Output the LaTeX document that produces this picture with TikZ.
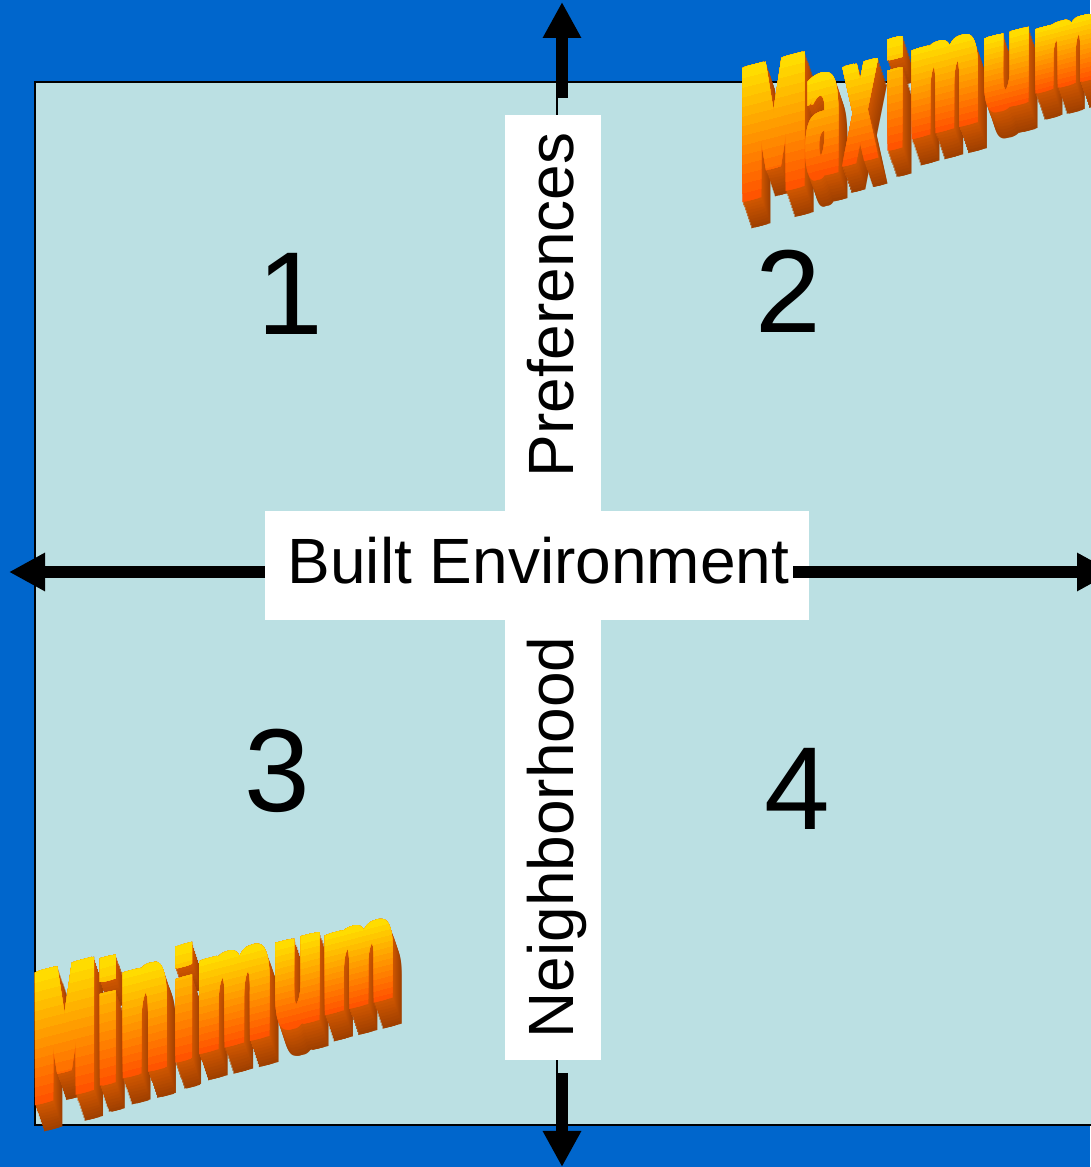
\documentclass[tikz,border=0pt]{standalone}
\usepackage{fontspec}
\setmainfont{Liberation Sans}
\newfontfamily\wafont{DejaVu Sans}
\usetikzlibrary{arrows.meta}

\definecolor{slideblue}{HTML}{0066CC}
\definecolor{panel}{HTML}{BBE0E3}
\definecolor{wayellow}{HTML}{FFDC00}
\definecolor{waorange}{HTML}{FF5400}
\definecolor{waside}{HTML}{D45800}
\definecolor{wasidefar}{HTML}{A04000}

% 3-D gradient lettering: one glyph at a time, fitted into a slanted box
\newsavebox\waglyphbox
\newdimen\waWdim
\newdimen\waHdim
\newcommand\wabase[3]{\def\wax{#1}\def\way{#2}\def\wak{#3}}
\def\waslant{0.26}
\def\wabold{10}
% #1 glyph, #2 left x, #3 right x, #4 top y (image rows, y downward)
\newcommand\waletter[4]{%
  \pgfinterruptpicture
    \global\setbox\waglyphbox=\hbox{\wafont\bfseries\fontsize{100}{100}\selectfont #1}%
    \global\waWdim=\wd\waglyphbox
    \global\waHdim=\ht\waglyphbox
  \endpgfinterruptpicture
  \pgfmathsetmacro\waW{\waWdim}%
  \pgfmathsetmacro\waH{\waHdim}%
  \pgfmathsetmacro\wac{(#2+#3)/2}%
  \pgfmathsetmacro\wabc{\way-\wak*(\wac-\wax)}%
  \pgfmathsetmacro\wah{\wabc-#4}%
  \pgfmathsetmacro\waw{(#3-#2)*1.1}%
  \pgfmathsetmacro\wal{#2-(#3-#2)*0.05}%
  \pgfmathsetmacro\wabl{1167-(\wabc+\waslant*(\wac-\wal))}%
  \pgfmathsetmacro\wasx{\waw/(\waW+\wabold)}%
  \pgfmathsetmacro\wasy{\wah/\waH}%
  % extruded depth, far copies first
  \foreach \e in {9,...,1}{%
    \pgfmathsetmacro\wamix{100*\e/9}%
    \begin{scope}[shift={(\wal+9*\e/9,\wabl-26*\e/9)},yslant=\waslant,xscale=\wasx,yscale=\wasy]
      \foreach \b in {0,2.5,...,\wabold}
        \node[wordglyph,text=wasidefar!\wamix!waside] at (\b,0) {#1};
    \end{scope}}%
  % front face, orange at the foot shading to yellow at the top
  \begin{scope}[shift={(\wal,\wabl)},yslant=\waslant,xscale=\wasx,yscale=\wasy]
    \foreach \j in {0,...,13}{%
      \pgfmathsetmacro\wamix{100*\j/13}%
      \pgfmathsetmacro\wacut{\j==0 ? -50 : \waH*\j/14}%
      \begin{scope}
        \clip (-10,\wacut) rectangle (\waW+\wabold+10,\waH+50);
        \foreach \b in {0,2.5,...,\wabold}
          \node[wordglyph,text=wayellow!\wamix!waorange] at (\b,0) {#1};
      \end{scope}}%
  \end{scope}%
}

\begin{document}
\begin{tikzpicture}[x=1pt,y=1pt,
  wordglyph/.style={anchor=base west,inner sep=0pt,outer sep=0pt,transform shape,
    font=\wafont\bfseries\fontsize{100}{100}\selectfont},
  whitebar/.style={fill=white,draw=none,inner sep=0pt},
  axislabel/.style={font=\fontsize{64}{64}\selectfont,text=black,inner sep=0pt},
  quadnum/.style={font=\fontsize{118}{118}\selectfont,text=black,inner sep=0pt,anchor=base},
  axis/.style={line width=12pt,-{Triangle[length=36pt,width=36pt]}},
  hair/.style={line width=1.5pt}]

\useasboundingbox (0,0) rectangle (1090,1167);
\fill[slideblue] (0,0) rectangle (1090,1167);

% light panel
\draw[line width=2pt,fill=panel] (35,42) rectangle (1110,1085);

% white crossing bars
\node[whitebar,minimum width=96pt,minimum height=945pt] (vbox) at (553,579.5) {};
\node[whitebar,minimum width=544pt,minimum height=109pt] (hbox) at (537,601.5) {};

% hairlines between the bars and the panel edge
\coordinate (ptop) at (557,1085);
\coordinate (pbot) at (557,42);
\draw[hair] (ptop) -- (vbox.north -| ptop);
\draw[hair] (vbox.south -| pbot) -- (pbot);

% axis labels
\node[axislabel,anchor=base,rotate=90] (pref) at (573,862) {Preferences};
\node[axislabel,anchor=base,rotate=90] (neigh) at (573,329.5) {Neighborhood};
\node[axislabel,anchor=base] (built) at (538.5,583) {Built Environment};

% quadrant numbers
\node[quadnum] (q1) at (290,832) {1};
\node[quadnum] (q2) at (788,834) {2};
\node[quadnum] (q3) at (277,355) {3};
\node[quadnum] (q4) at (797,337) {4};

% axes
\coordinate (ustart) at (562,1069);
\coordinate (uend) at (562,1165);
\coordinate (dstart) at (562,94);
\coordinate (dend) at (562,0);
\coordinate (lstart) at (265,595);
\coordinate (lend) at (9,595);
\coordinate (rstart) at (793,595);
\coordinate (rend) at (1113,595);
\draw[axis] (ustart) -- (uend);
\draw[axis] (dstart) -- (dend);
\draw[axis] (lstart) -- (lend);
\draw[axis] (rstart) -- (rend);

% "Maximum"
\wabase{740}{207}{0.37}
\waletter{M}{740}{808}{60}
\waletter{a}{805}{841}{73}
\waletter{x}{843}{878}{63}
\waletter{i}{885}{906}{38}
\waletter{m}{910}{980}{40}
\waletter{u}{982}{1032}{33}
\waletter{m}{1034}{1100}{20}

% "Minimum"
\wabase{33}{1108}{0.31}
\waletter{M}{33}{97}{965}
\waletter{i}{97}{120}{957}
\waletter{n}{120}{170}{965}
\waletter{i}{172}{197}{945}
\waletter{m}{197}{272}{950}
\waletter{u}{273}{323}{938}
\waletter{m}{323}{395}{925}
\end{tikzpicture}
\end{document}
